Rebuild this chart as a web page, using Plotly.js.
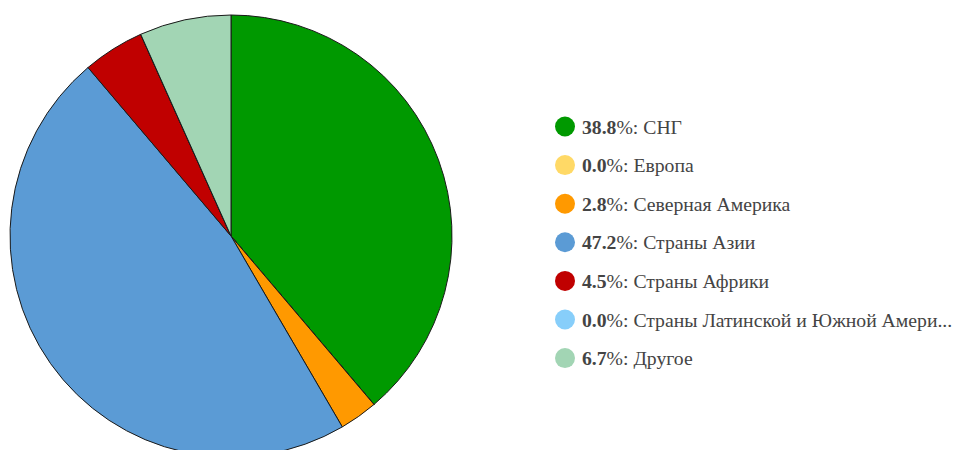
<!DOCTYPE html>
<html>
<head>
<meta charset="utf-8">
<script src="https://cdn.plot.ly/plotly-3.0.1.min.js"></script>
<style>
html, body { margin: 0; padding: 0; overflow: hidden; background: #fff; width: 956px; height: 450px; }
#chart { width: 956px; height: 472px; }
</style>
</head>
<body>
<div id="chart"></div>
<script>
const categories = ["СНГ", "Европа", "Северная Америка", "Страны Азии", "Страны Африки", "Страны Латинской и Южной Амери...", "Другое"];
const shares = [38.8, 0.0, 2.8, 47.2, 4.5, 0.0, 6.7];
const colors = ["#009900", "#ffd966", "#ff9900", "#5b9bd5", "#c00000", "#87cefa", "#a2d5b4"];

const W = 956, H = 472;
const px = x => x / W;
const py = y => 1 - y / H;

const total = shares.reduce((a, b) => a + b, 0);

const trace = {
  type: "pie",
  labels: categories,
  values: shares,
  sort: false,
  direction: "clockwise",
  rotation: 0,
  textinfo: "none",
  hoverinfo: "label+percent",
  marker: { colors: colors, line: { color: "#1a1a1a", width: 1 } },
  domain: { x: [px(10), px(452)], y: [0, 1] },
  showlegend: false
};

const legendX = 565, legendY0 = 126.5, legendStep = 38.6, dotR = 10;
const shapes = [], annotations = [];
categories.forEach((c, i) => {
  const cy = legendY0 + i * legendStep;
  shapes.push({
    type: "circle", xref: "paper", yref: "paper",
    x0: px(legendX - dotR), x1: px(legendX + dotR),
    y0: py(cy + dotR), y1: py(cy - dotR),
    fillcolor: colors[i], line: { width: 0 }
  });
  const pct = (shares[i] / total * 100).toFixed(1);
  annotations.push({
    xref: "paper", yref: "paper",
    x: px(580), y: py(cy),
    xanchor: "left", yanchor: "middle",
    showarrow: false,
    text: "<b>" + pct + "</b>%: " + c,
    font: { family: "Liberation Serif, Times New Roman, serif", size: 19.7, color: "#444" }
  });
});

const layout = {
  width: W, height: H,
  margin: { l: 0, r: 0, t: 0, b: 0 },
  paper_bgcolor: "#fff",
  shapes: shapes,
  annotations: annotations
};

Plotly.newPlot("chart", [trace], layout, { displayModeBar: false, staticPlot: true });
</script>
</body>
</html>
